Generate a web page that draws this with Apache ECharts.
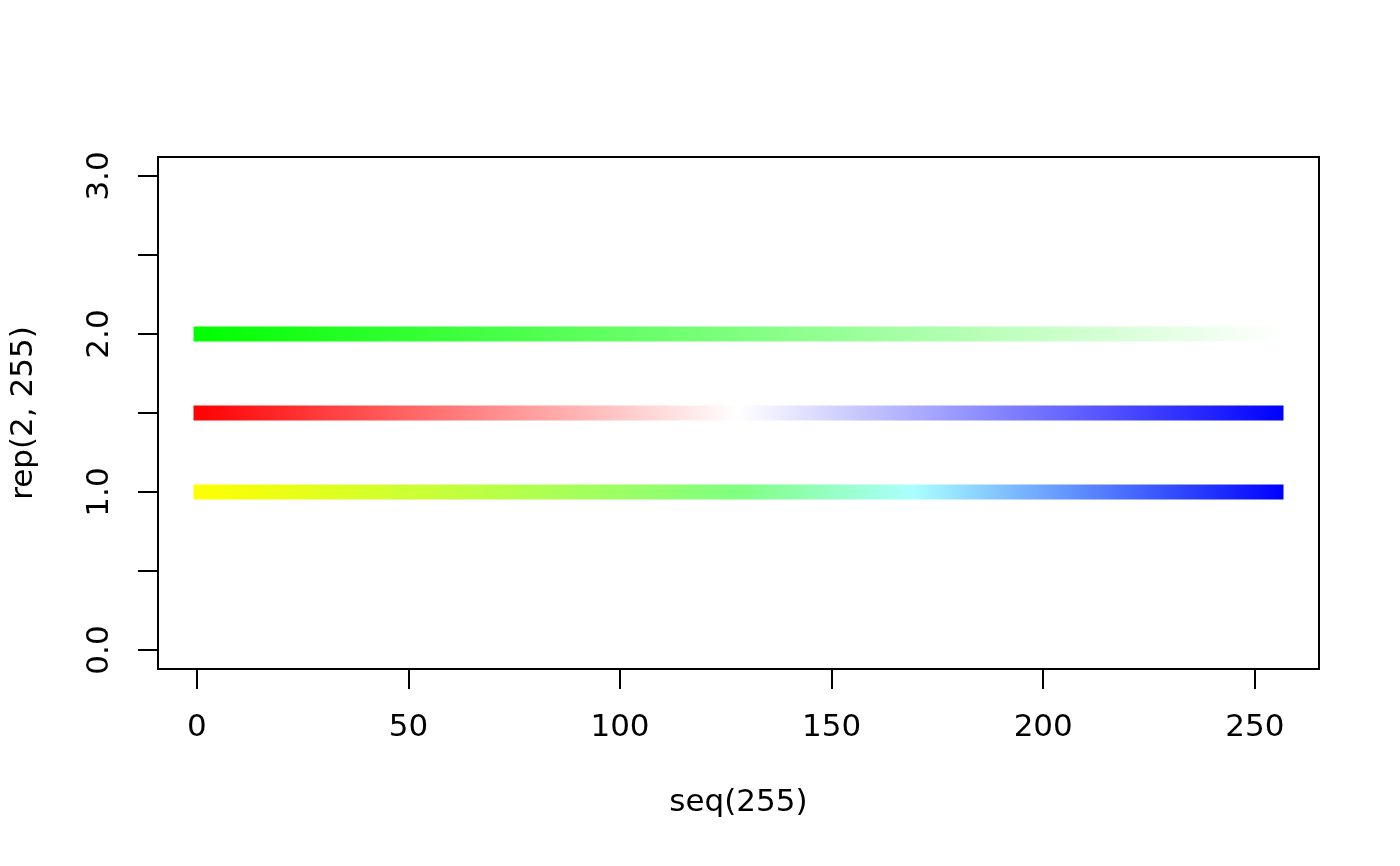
<!DOCTYPE html>
<html>
<head>
<meta charset="utf-8">
<script src="https://cdn.jsdelivr.net/npm/echarts@6/dist/echarts.min.js"></script>
<style>
html,body{margin:0;padding:0;background:#fff;}
#chart{width:1400px;height:866px;}
</style>
</head>
<body>
<div id="chart"></div>
<script>
// ---- data ----
const xRange = [1, 255];                 // seq(255): first and last x
const lineNames = ['green to white', 'red to white to blue', 'yellow to blue'];
const lineLevels = [2, 1.5, 1];          // rep(2,255), rep(1.5,255), rep(1,255)
const stopsGreen = [[0, '#00FF00'], [1, '#FFFFFF']];
const stopsRedBlue = [[0, '#FF0000'], [0.5, '#FFFFFF'], [1, '#0000FF']];
const stopsYellowBlue = [[0, '#FFFF00'], [0.5, '#80FF80'], [0.66, '#AAFFFF'], [1, '#0000FF']];
const xTicks = [0, 50, 100, 150, 200, 250];
const yTicks = [0, 0.5, 1, 1.5, 2, 2.5, 3];
const yTickLabels = [0, 1, 2, 3];
const xLimits = [-9.16, 265.16];
const yLimits = [-0.12, 3.12];
const xTitle = 'seq(255)';
const yTitle = 'rep(2, 255)';

const FONT = 'DejaVu Sans';
const FS = 31;

function grad(stops) {
  return new echarts.graphic.LinearGradient(0, 0, 1, 0,
    stops.map(s => ({offset: s[0], color: s[1]})));
}
const allStops = [stopsGreen, stopsRedBlue, stopsYellowBlue];

const chart = echarts.init(document.getElementById('chart'), null, {renderer: 'canvas'});
chart.setOption({
  backgroundColor: '#ffffff',
  animation: false,
  grid: {
    left: 158, right: 81, top: 157, bottom: 197,
    show: true, borderColor: '#000', borderWidth: 2, backgroundColor: 'transparent'
  },
  xAxis: {
    type: 'value',
    min: xLimits[0], max: xLimits[1],
    name: xTitle, nameLocation: 'middle', nameGap: 134,
    nameTextStyle: {fontFamily: FONT, fontSize: FS, color: '#000', verticalAlign: 'middle'},
    axisLine: {show: true, onZero: false, lineStyle: {color: '#000', width: 2}},
    axisTick: {show: true, length: 20, lineStyle: {color: '#000', width: 2}, customValues: xTicks},
    axisLabel: {show: true, customValues: xTicks, margin: 59, verticalAlign: 'middle',
      fontFamily: FONT, fontSize: FS, color: '#000', formatter: v => String(v)},
    splitLine: {show: false}
  },
  yAxis: {
    type: 'value',
    min: yLimits[0], max: yLimits[1],
    name: yTitle, nameLocation: 'middle', nameGap: 134, nameRotate: 90,
    nameTextStyle: {fontFamily: FONT, fontSize: FS, color: '#000', verticalAlign: 'middle', align: 'center'},
    axisLine: {show: true, onZero: false, lineStyle: {color: '#000', width: 2}},
    axisTick: {show: true, length: 20, lineStyle: {color: '#000', width: 2}, customValues: yTicks},
    axisLabel: {show: true, customValues: yTickLabels, margin: 58, rotate: 90,
      align: 'center', verticalAlign: 'middle',
      fontFamily: FONT, fontSize: FS, color: '#000', formatter: v => v.toFixed(1)},
    splitLine: {show: false}
  },
  series: lineLevels.map((lv, i) => ({
    name: lineNames[i],
    type: 'line',
    silent: true,
    showSymbol: false,
    symbol: 'none',
    data: xRange.map(x => [x, lv]),
    lineStyle: {width: 15, cap: 'square', color: grad(allStops[i])},
    z: 3
  }))
});
</script>
</body>
</html>
